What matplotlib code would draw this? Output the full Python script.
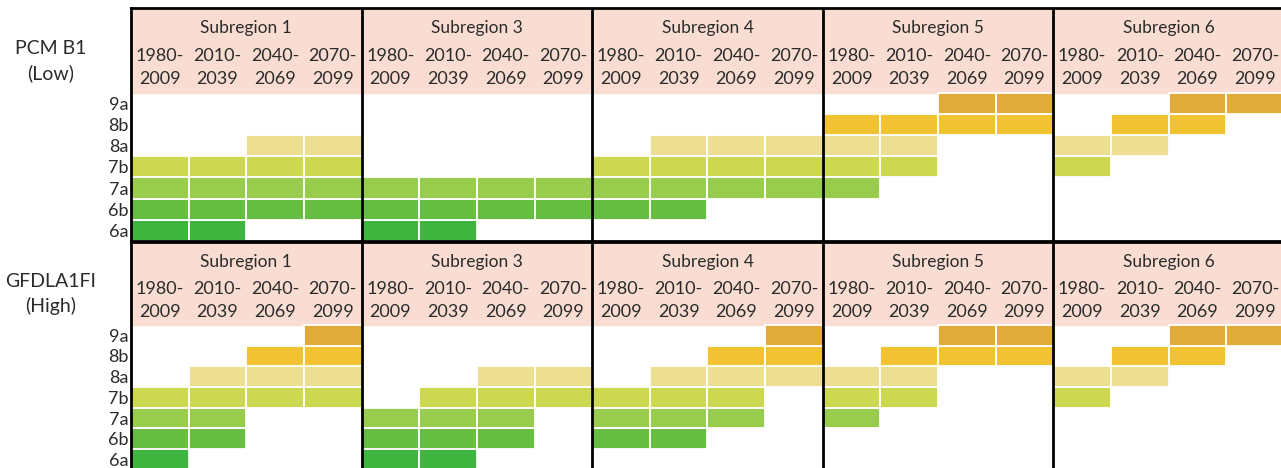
import matplotlib
matplotlib.use("Agg")
import matplotlib.pyplot as plt

plt.rcParams['font.family'] = ['Lato', 'DejaVu Sans']

zones = ['6a', '6b', '7a', '7b', '8a', '8b', '9a']
subregions = ['Subregion 1', 'Subregion 3', 'Subregion 4', 'Subregion 5', 'Subregion 6']
periods = ['1980-\n2009', '2010-\n2039', '2040-\n2069', '2070-\n2099']

# lowest and highest hardiness zone per period, one list per subregion
pcm_low_min = [['6a', '6a', '6b', '6b'],
               ['6a', '6a', '6b', '6b'],
               ['6b', '6b', '7a', '7a'],
               ['7a', '7b', '8b', '8b'],
               ['7b', '8a', '8b', '9a']]
pcm_low_max = [['7b', '7b', '8a', '8a'],
               ['7a', '7a', '7a', '7a'],
               ['7b', '8a', '8a', '8a'],
               ['8b', '8b', '9a', '9a'],
               ['8a', '8b', '9a', '9a']]

gfdl_high_min = [['6a', '6b', '7b', '7b'],
                 ['6a', '6a', '6b', '7b'],
                 ['6b', '6b', '7a', '8a'],
                 ['7a', '7b', '8b', '8b'],
                 ['7b', '8a', '8b', '9a']]
gfdl_high_max = [['7b', '8a', '8b', '9a'],
                 ['7a', '7b', '8a', '8a'],
                 ['7b', '8a', '8b', '9a'],
                 ['8a', '8b', '9a', '9a'],
                 ['8a', '8b', '9a', '9a']]

scenarios = ['PCM B1\n(Low)', 'GFDLA1FI\n(High)']

zone_colors = ['#3fb43e', '#66bd41', '#98cc4c', '#cdd852', '#ecdf92', '#f1c232', '#e1ab3a']
header_color = '#f9ddd2'
text_color = '#2b2b2b'


def draw_panel(ax, zmin, zmax, label):
    n_head = 4.0
    ax.axhspan(len(zones), len(zones) + n_head, color=header_color, zorder=0)
    for s in range(len(subregions)):
        for p in range(len(periods)):
            x = s * len(periods) + p
            lo = zones.index(zmin[s][p])
            hi = zones.index(zmax[s][p])
            for z in range(lo, hi + 1):
                ax.bar(x, 1, bottom=z, width=1, align='edge', color=zone_colors[z],
                       edgecolor='white', linewidth=1.3, zorder=2)
            ax.text(x + 0.5, len(zones) + 0.25, periods[p], ha='center', va='bottom',
                    fontsize=13, color=text_color, linespacing=1.55, zorder=3)
        ax.text(s * len(periods) + 2, len(zones) + 3.05, subregions[s], ha='center',
                va='center', fontsize=12.5, color=text_color, zorder=3)
        if s > 0:
            ax.axvline(s * len(periods), color='black', linewidth=2, zorder=4)
    ax.set_xlim(0, len(subregions) * len(periods))
    ax.set_ylim(0, len(zones) + n_head)
    ax.set_xticks([])
    ax.set_yticks([i + 0.5 for i in range(len(zones))])
    ax.set_yticklabels(zones, fontsize=13, color=text_color)
    ax.tick_params(axis='y', length=0, pad=2)
    ax.spines['right'].set_visible(False)
    for side in ['left', 'top', 'bottom']:
        ax.spines[side].set_linewidth(2)
        ax.spines[side].set_color('black')
        ax.spines[side].set_zorder(5)
    ax.text(-1.4, len(zones) + 1.5, label, ha='center', va='center', fontsize=14,
            color=text_color, linespacing=1.45)


fig = plt.figure(figsize=(12.81, 4.68), dpi=100)
ax1 = fig.add_axes([0.1023, 0.485, 0.9, 0.498])
ax2 = fig.add_axes([0.1023, -0.004, 0.9, 0.487])

draw_panel(ax1, pcm_low_min, pcm_low_max, scenarios[0])
draw_panel(ax2, gfdl_high_min, gfdl_high_max, scenarios[1])

fig.savefig('out.png', dpi=100)
